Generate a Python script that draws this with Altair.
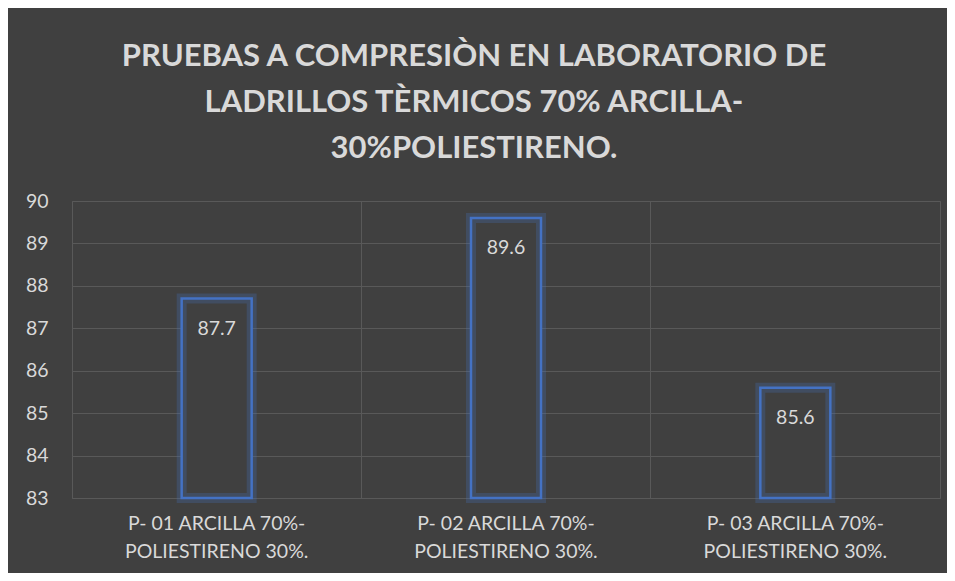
import altair as alt
import pandas as pd

categories = ["P- 01 ARCILLA 70%-|POLIESTIRENO 30%.",
              "P- 02 ARCILLA 70%-|POLIESTIRENO 30%.",
              "P- 03 ARCILLA 70%-|POLIESTIRENO 30%."]
values = [87.7, 89.6, 85.6]
y_min, y_max = 83, 90

df = pd.DataFrame({"cat": categories, "val": values, "base": [y_min] * len(values)})

BG = "#404040"
TXT = "#d9d9d9"
GRID = "#595959"
BLUE = "#4472c4"

x = alt.X("cat:N", sort=None, title=None,
          scale=alt.Scale(paddingInner=0, paddingOuter=0),
          axis=alt.Axis(labelAngle=0, labelExpr="split(datum.label, '|')",
                        labelFontSize=19.5, labelColor=TXT, labelFont="Lato",
                        labelPadding=16, labelLineHeight=28, labelLimit=400,
                        ticks=False, domain=False,
                        grid=True, gridColor=GRID, bandPosition=0))
y = alt.Y("val:Q", title=None,
          scale=alt.Scale(domain=[y_min, y_max], zero=False, nice=False),
          axis=alt.Axis(values=list(range(y_min, y_max + 1)), labelFontSize=19.5,
                        labelColor=TXT, labelFont="Lato", labelPadding=24,
                        ticks=False, domain=False, gridColor=GRID))

base = alt.Chart(df)

glow = base.mark_bar(size=70, fill=BG, stroke=BLUE, strokeWidth=10,
                     strokeOpacity=0.25).encode(x=x, y=y, y2="base:Q")
bars = base.mark_bar(size=70, fillOpacity=0, stroke=BLUE,
                     strokeWidth=2.5).encode(x=x, y=y, y2="base:Q")
labels = base.mark_text(dy=30, fontSize=19.5, color=TXT, font="Lato").encode(
    x=x, y=y, text=alt.Text("val:Q", format=".1f"))

chart = (glow + bars + labels).properties(
    width=868, height=297,
    background=BG,
    autosize=alt.AutoSizeParams(type="none"),
    padding={"left": 64, "top": 193, "right": 7, "bottom": 75},
    title=alt.TitleParams(
        ["PRUEBAS A COMPRESIÒN EN LABORATORIO DE",
         "LADRILLOS TÈRMICOS 70% ARCILLA-",
         "30%POLIESTIRENO."],
        fontSize=31, font="Lato", fontWeight="bold", color=TXT,
        lineHeight=46, anchor="middle", dx=-32, offset=26),
).configure_view(stroke=GRID)

chart.save("out.html", embed_options={"renderer": "svg", "actions": False})
